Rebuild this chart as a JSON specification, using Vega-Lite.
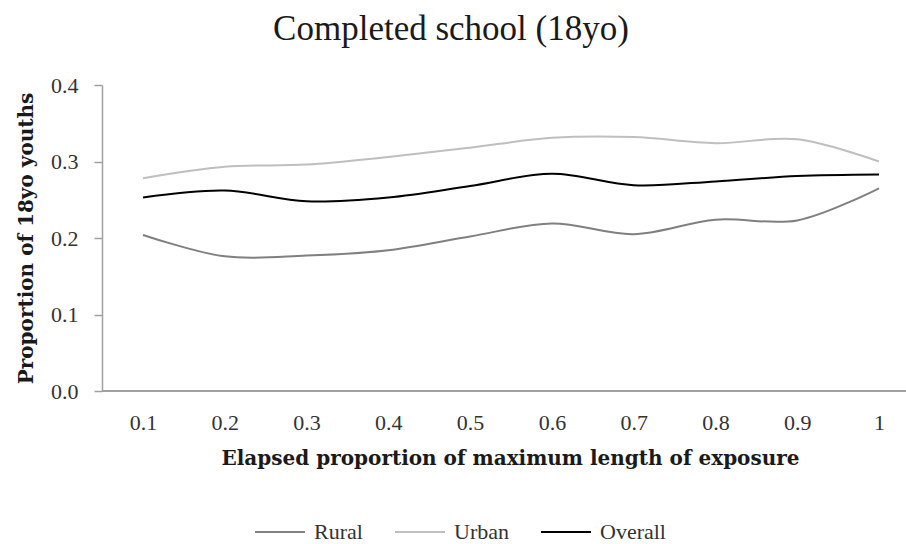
{
  "$schema": "https://vega.github.io/schema/vega-lite/v6.json",
  "width": 804,
  "height": 306,
  "autosize": {"type": "none"},
  "padding": {"left": 102, "top": 85, "right": 0, "bottom": 153},
  "background": "white",
  "title": {
    "text": "Completed school (18yo)",
    "font": "Liberation Serif",
    "fontSize": 35,
    "fontWeight": "normal",
    "color": "#1a1a1a",
    "anchor": "middle",
    "frame": "group",
    "dx": -53,
    "offset": 27
  },
  "config": {
    "view": {"stroke": null},
    "font": "Liberation Serif"
  },
  "data": {
    "values": [
      {"x": "0.1", "group": "Rural", "value": 0.204},
      {"x": "0.2", "group": "Rural", "value": 0.176},
      {"x": "0.3", "group": "Rural", "value": 0.177},
      {"x": "0.4", "group": "Rural", "value": 0.184},
      {"x": "0.5", "group": "Rural", "value": 0.202},
      {"x": "0.6", "group": "Rural", "value": 0.219},
      {"x": "0.7", "group": "Rural", "value": 0.205},
      {"x": "0.8", "group": "Rural", "value": 0.224},
      {"x": "0.9", "group": "Rural", "value": 0.223},
      {"x": "1", "group": "Rural", "value": 0.265},
      {"x": "0.1", "group": "Urban", "value": 0.278},
      {"x": "0.2", "group": "Urban", "value": 0.293},
      {"x": "0.3", "group": "Urban", "value": 0.296},
      {"x": "0.4", "group": "Urban", "value": 0.306},
      {"x": "0.5", "group": "Urban", "value": 0.318},
      {"x": "0.6", "group": "Urban", "value": 0.331},
      {"x": "0.7", "group": "Urban", "value": 0.332},
      {"x": "0.8", "group": "Urban", "value": 0.324},
      {"x": "0.9", "group": "Urban", "value": 0.329},
      {"x": "1", "group": "Urban", "value": 0.300},
      {"x": "0.1", "group": "Overall", "value": 0.253},
      {"x": "0.2", "group": "Overall", "value": 0.262},
      {"x": "0.3", "group": "Overall", "value": 0.248},
      {"x": "0.4", "group": "Overall", "value": 0.253},
      {"x": "0.5", "group": "Overall", "value": 0.268},
      {"x": "0.6", "group": "Overall", "value": 0.284},
      {"x": "0.7", "group": "Overall", "value": 0.269},
      {"x": "0.8", "group": "Overall", "value": 0.274},
      {"x": "0.9", "group": "Overall", "value": 0.281},
      {"x": "1", "group": "Overall", "value": 0.283}
    ]
  },
  "layer": [
    {
      "mark": {"type": "rule", "color": "#a0a0a0", "strokeWidth": 1.5},
      "encoding": {"y": {"datum": 0}}
    },
    {
      "mark": {"type": "line", "interpolate": "catmull-rom", "strokeWidth": 2},
      "encoding": {
        "x": {
          "field": "x",
          "type": "ordinal",
          "sort": null,
          "scale": {"type": "point", "range": [41, 777], "padding": 0},
          "axis": {
            "title": "Elapsed proportion of maximum length of exposure",
            "titleFont": "DejaVu Serif",
            "titleFontSize": 20,
            "titleFontWeight": "bold",
            "titleColor": "#1a1a1a",
            "titlePadding": 15,
            "titleX": 408,
            "labelFont": "Liberation Serif",
            "labelFontSize": 22,
            "labelColor": "#333333",
            "labelAngle": 0,
            "labelPadding": 21,
            "ticks": false,
            "grid": false,
            "domain": false
          }
        },
        "y": {
          "field": "value",
          "type": "quantitative",
          "scale": {"domain": [0, 0.4], "nice": false, "zero": true},
          "axis": {
            "title": "Proportion of 18yo youths",
            "titleFont": "DejaVu Serif",
            "titleFontSize": 20,
            "titleFontWeight": "bold",
            "titleColor": "#1a1a1a",
            "titlePadding": 14,
            "labelFont": "Liberation Serif",
            "labelFontSize": 22,
            "labelColor": "#333333",
            "labelPadding": 16,
            "values": [0, 0.1, 0.2, 0.3, 0.4],
            "format": ".1f",
            "tickColor": "#a0a0a0",
            "tickSize": 8,
            "tickWidth": 1.5,
            "grid": false,
            "domainColor": "#a0a0a0",
            "domainWidth": 1.5
          }
        },
        "color": {
          "field": "group",
          "type": "nominal",
          "scale": {
            "domain": ["Rural", "Urban", "Overall"],
            "range": ["#808080", "#bfbfbf", "#000000"]
          },
          "legend": {
            "title": null,
            "orient": "none",
            "direction": "horizontal",
            "legendX": 152,
            "legendY": 421,
            "symbolType": "stroke",
            "symbolSize": 2500,
            "symbolStrokeWidth": 2,
            "labelFont": "Liberation Serif",
            "labelFontSize": 22,
            "labelColor": "#333333",
            "labelOffset": 8,
            "columnPadding": 28
          }
        }
      }
    }
  ]
}
